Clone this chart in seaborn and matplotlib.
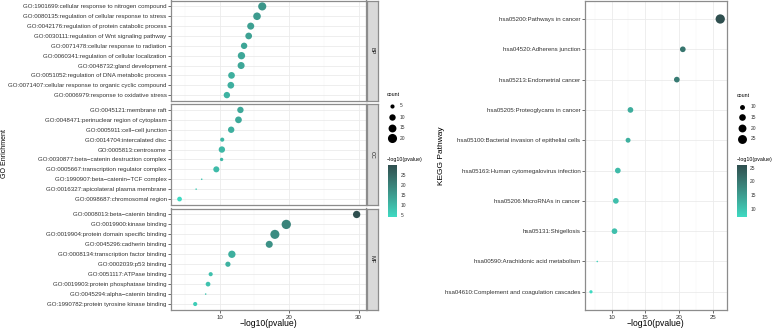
import numpy as np
import pandas as pd
import matplotlib
matplotlib.use("Agg")
import matplotlib.pyplot as plt
from matplotlib.colors import ListedColormap, Normalize, to_rgb
from matplotlib.cm import ScalarMappable
import seaborn as sns

# ---- GO enrichment: biological process ----
bp_terms = [
    "GO:1901699:cellular response to nitrogen compound",
    "GO:0080135:regulation of cellular response to stress",
    "GO:0042176:regulation of protein catabolic process",
    "GO:0030111:regulation of Wnt signaling pathway",
    "GO:0071478:cellular response to radiation",
    "GO:0060341:regulation of cellular localization",
    "GO:0048732:gland development",
    "GO:0051052:regulation of DNA metabolic process",
    "GO:0071407:cellular response to organic cyclic compound",
    "GO:0006979:response to oxidative stress",
]
bp_logp = [16.14, 15.39, 14.48, 14.19, 13.53, 13.15, 13.10, 11.72, 11.62, 11.05]
bp_count = [16, 14, 12, 11, 10, 13, 12, 11, 11, 10]

# ---- GO enrichment: cellular component ----
cc_terms = [
    "GO:0045121:membrane raft",
    "GO:0048471:perinuclear region of cytoplasm",
    "GO:0005911:cell\u2212cell junction",
    "GO:0014704:intercalated disc",
    "GO:0005813:centrosome",
    "GO:0030877:beta\u2212catenin destruction complex",
    "GO:0005667:transcription regulator complex",
    "GO:1990907:beta\u2212catenin\u2212TCF complex",
    "GO:0016327:apicolateral plasma membrane",
    "GO:0098687:chromosomal region",
]
cc_logp = [13.00, 12.72, 11.67, 10.38, 10.33, 10.29, 9.53, 7.43, 6.63, 4.24]
cc_count = [10, 11, 10, 5, 10, 4, 9, 3, 3, 6]

# ---- GO enrichment: molecular function ----
mf_terms = [
    "GO:0008013:beta\u2212catenin binding",
    "GO:0019900:kinase binding",
    "GO:0019904:protein domain specific binding",
    "GO:0045296:cadherin binding",
    "GO:0008134:transcription factor binding",
    "GO:0002039:p53 binding",
    "GO:0051117:ATPase binding",
    "GO:0019903:protein phosphatase binding",
    "GO:0045294:alpha\u2212catenin binding",
    "GO:1990782:protein tyrosine kinase binding",
]
mf_logp = [29.73, 19.60, 17.96, 17.15, 11.77, 11.20, 8.72, 8.34, 8.00, 6.49]
mf_count = [13, 21, 20, 12, 13, 7, 5, 6, 3, 5]

ontologies = ["BP", "CC", "MF"]

# ---- KEGG pathways ----
kegg_terms = [
    "hsa05200:Pathways in cancer",
    "hsa04520:Adherens junction",
    "hsa05213:Endometrial cancer",
    "hsa05205:Proteoglycans in cancer",
    "hsa05100:Bacterial invasion of epithelial cells",
    "hsa05163:Human cytomegalovirus infection",
    "hsa05206:MicroRNAs in cancer",
    "hsa05131:Shigellosis",
    "hsa00590:Arachidonic acid metabolism",
    "hsa04610:Complement and coagulation cascades",
]
kegg_logp = [26.03, 20.51, 19.63, 12.79, 12.44, 10.93, 10.64, 10.44, 7.90, 6.97]
kegg_count = [27, 12, 12, 12, 10, 12, 12, 12, 6, 7]

go_count_breaks = [5, 10, 15, 20]
go_color_breaks = [5, 10, 15, 20, 25]
kegg_count_breaks = [10, 15, 20, 25]
kegg_color_breaks = [10, 15, 20, 25]

sns.set_style("white")
plt.rcParams["font.family"] = ["Liberation Sans", "DejaVu Sans"]

W, H = 777, 329
fig = plt.figure(figsize=(W / 100, H / 100), dpi=100)

BORDER = "#8C8C8C"
TXT = "#333333"


# --- gradient interpolated in CIE Lab, low -> high ---
def _srgb_to_lab(rgb):
    rgb = np.asarray(rgb, float)
    lin = np.where(rgb <= 0.04045, rgb / 12.92, ((rgb + 0.055) / 1.055) ** 2.4)
    m = np.array([[0.4124, 0.3576, 0.1805],
                  [0.2126, 0.7152, 0.0722],
                  [0.0193, 0.1192, 0.9505]])
    xyz = m @ lin / np.array([0.95047, 1.0, 1.08883])
    f = np.where(xyz > 0.008856, np.cbrt(xyz), 7.787 * xyz + 16 / 116)
    return np.array([116 * f[1] - 16, 500 * (f[0] - f[1]), 200 * (f[1] - f[2])])


def _lab_to_srgb(lab):
    L, a, b = lab
    fy = (L + 16) / 116
    fx = fy + a / 500
    fz = fy - b / 200
    f = np.array([fx, fy, fz])
    xyz = np.where(f ** 3 > 0.008856, f ** 3, (f - 16 / 116) / 7.787)
    xyz = xyz * np.array([0.95047, 1.0, 1.08883])
    minv = np.array([[3.2406, -1.5372, -0.4986],
                     [-0.9689, 1.8758, 0.0415],
                     [0.0557, -0.2040, 1.0570]])
    lin = minv @ xyz
    rgb = np.where(lin <= 0.0031308, 12.92 * lin, 1.055 * np.clip(lin, 0, None) ** (1 / 2.4) - 0.055)
    return np.clip(rgb, 0, 1)


def lab_gradient(low, high, n=256):
    a, b = _srgb_to_lab(to_rgb(low)), _srgb_to_lab(to_rgb(high))
    return ListedColormap([_lab_to_srgb(a + (b - a) * t) for t in np.linspace(0, 1, n)])


cmap = lab_gradient("#3EDAC2", "#2F4F4F")


def px_axes(x0, y0, x1, y1):
    return fig.add_axes([x0 / W, 1 - y1 / H, (x1 - x0) / W, (y1 - y0) / H])


def area_sizes(counts, lo, hi, unit_px):
    # area palette: diameter grows with sqrt of rescaled count
    out = {}
    for c in sorted(set(counts)):
        d_px = unit_px * (1 + 5 * np.sqrt((c - lo) / (hi - lo)))
        out[c] = (d_px * 0.72) ** 2
    return out


def style_panel(ax, xlim, major, minor, nrow, show_x):
    ax.set_xlim(*xlim)
    ax.set_ylim(nrow - 1 + 0.6, -0.6)
    ax.set_xticks(major)
    ax.set_xticks(minor, minor=True)
    ax.set_axisbelow(True)
    ax.grid(which="major", color="#EBEBEB", lw=0.6)
    ax.grid(which="minor", axis="x", color="#F3F3F3", lw=0.35)
    for s in ax.spines.values():
        s.set_color(BORDER)
        s.set_linewidth(0.9)
    ax.tick_params(axis="y", which="major", left=True, length=2, width=0.5,
                   color="#333333", labelsize=4.4, pad=1, labelcolor=TXT)
    ax.tick_params(axis="x", which="minor", bottom=False)
    if show_x:
        ax.tick_params(axis="x", which="major", bottom=True, length=2, width=0.5,
                       color="#333333", labelsize=4.4, pad=1.5, labelcolor=TXT)
    else:
        ax.tick_params(axis="x", which="major", bottom=False, labelbottom=False)
    ax.set_xlabel("")
    ax.set_ylabel("")


# ---------------- GO figure ----------------
go_df = pd.concat([
    pd.DataFrame({"term": bp_terms, "logp": bp_logp, "count": bp_count, "ont": "BP"}),
    pd.DataFrame({"term": cc_terms, "logp": cc_logp, "count": cc_count, "ont": "CC"}),
    pd.DataFrame({"term": mf_terms, "logp": mf_logp, "count": mf_count, "ont": "MF"}),
], ignore_index=True)

go_lo, go_hi = go_df["count"].min(), go_df["count"].max()
go_vmin, go_vmax = go_df["logp"].min(), go_df["logp"].max()
GO_UNIT = 1.55
go_sizes = area_sizes(go_df["count"], go_lo, go_hi, GO_UNIT)
rng = go_vmax - go_vmin
go_xlim = (go_vmin - 0.05 * rng, go_vmax + 0.05 * rng)

panel_rows = [(0.5, 101), (104, 205), (208.5, 310)]
for ont, (y0, y1) in zip(ontologies, panel_rows):
    ax = px_axes(170.7, y0, 365.5, y1)
    sub = go_df[go_df["ont"] == ont]
    sns.scatterplot(data=sub, x="logp", y="term", hue="logp", size="count",
                    palette=cmap, hue_norm=(go_vmin, go_vmax), sizes=go_sizes,
                    linewidth=0, legend=False, ax=ax, zorder=3)
    style_panel(ax, go_xlim, [10, 20, 30], [5, 15, 25], len(sub), ont == "MF")
    # facet strip
    st = px_axes(366.5, y0, 377.5, y1)
    st.set_facecolor("#D9D9D9")
    st.set_xticks([])
    st.set_yticks([])
    for s in st.spines.values():
        s.set_color(BORDER)
        s.set_linewidth(0.9)
    st.text(0.5, 0.5, ont, rotation=-90, ha="center", va="center",
            fontsize=4, color="#1A1A1A", transform=st.transAxes)

fig.text(5 / W, 1 - 154 / H, "GO Enrichment", rotation=90, ha="center",
         va="center", fontsize=5, color="#000000")
fig.text(268.3 / W, 1 - 323.5 / H, "\u2212log10(pvalue)", ha="center",
         va="center", fontsize=6.2, color="#000000")

# ---------------- KEGG figure ----------------
kegg_df = pd.DataFrame({"term": kegg_terms, "logp": kegg_logp, "count": kegg_count})
k_lo, k_hi = kegg_df["count"].min(), kegg_df["count"].max()
k_vmin, k_vmax = kegg_df["logp"].min(), kegg_df["logp"].max()
K_UNIT = 1.55
k_sizes = area_sizes(kegg_df["count"], k_lo, k_hi, K_UNIT)
krng = k_vmax - k_vmin
k_xlim = (k_vmin - 0.05 * krng, k_vmax + 0.05 * krng)

kax = px_axes(584.5, 0.8, 726.7, 310)
sns.scatterplot(data=kegg_df, x="logp", y="term", hue="logp", size="count",
                palette=cmap, hue_norm=(k_vmin, k_vmax), sizes=k_sizes,
                linewidth=0, legend=False, ax=kax, zorder=3)
style_panel(kax, k_xlim, [10, 15, 20, 25], [7.5, 12.5, 17.5, 22.5], len(kegg_df), True)

fig.text(441.7 / W, 1 - 156 / H, "KEGG Pathway", rotation=90, ha="center",
         va="center", fontsize=6, color="#000000")
fig.text(655.6 / W, 1 - 323 / H, "\u2212log10(pvalue)", ha="center",
         va="center", fontsize=6.2, color="#000000")

# ---------------- legends ----------------
ov = fig.add_axes([0, 0, 1, 1], zorder=10)
ov.set_xlim(0, W)
ov.set_ylim(H, 0)
ov.axis("off")
ov.patch.set_alpha(0)


def count_legend(x_title, y_title, x_dot, x_lab, ys, breaks, lo, hi, unit):
    ov.text(x_title, y_title, "count", fontsize=3.8, color="#000000",
            ha="left", va="center")
    s = area_sizes(breaks, lo, hi, unit)
    for b, y in zip(breaks, ys):
        ov.scatter([x_dot], [y], s=s[b], color="black", linewidth=0)
        ov.text(x_lab, y, str(b), fontsize=3.5, color=TXT, ha="left", va="center")


def color_legend(x_title, y_title, box, vmin, vmax, breaks):
    ov.text(x_title, y_title, "\u2212log10(pvalue)", fontsize=3.8,
            color="#000000", ha="left", va="center")
    cax = px_axes(*box)
    cb = fig.colorbar(ScalarMappable(norm=Normalize(vmin, vmax), cmap=cmap), cax=cax)
    cb.outline.set_visible(False)
    cb.set_ticks(breaks)
    cax.tick_params(labelsize=3.5, length=1.5, width=0.4, color="white",
                    direction="in", pad=2.5, labelcolor=TXT)


count_legend(386.5, 95, 392.3, 400, [105.7, 117.2, 127.7, 138.3],
             go_count_breaks, go_lo, go_hi, GO_UNIT)
color_legend(386.5, 160, (388, 165, 397, 217), go_vmin, go_vmax, go_color_breaks)

count_legend(736.5, 95.7, 742, 750.5, [106.7, 117.3, 128, 138.7],
             kegg_count_breaks, k_lo, k_hi, K_UNIT)
color_legend(736.5, 159, (736.7, 165, 746.7, 217), k_vmin, k_vmax, kegg_color_breaks)

fig.savefig("out.png", dpi=100)
